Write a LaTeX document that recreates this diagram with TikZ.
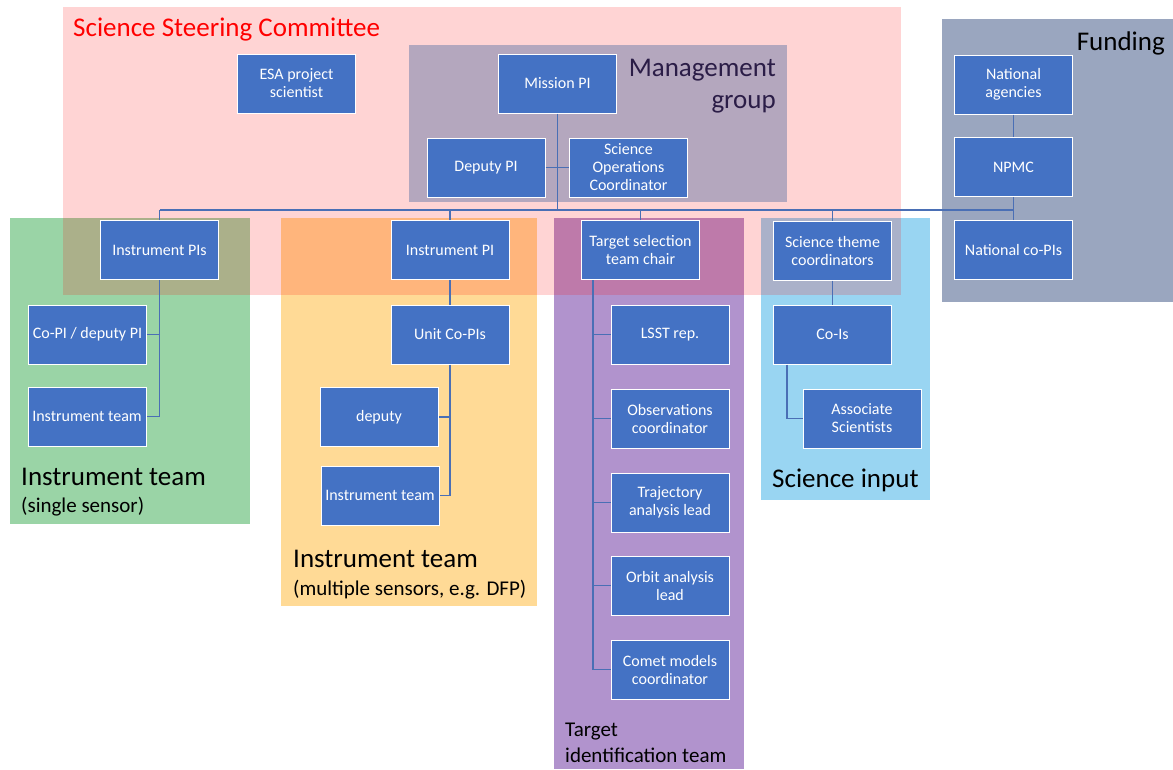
\documentclass[tikz,border=0pt]{standalone}
\usepackage{fontspec}
\setmainfont{Carlito}
\definecolor{nodeblue}{HTML}{4472C4}
\definecolor{lineblue}{HTML}{4A6FB5}
\definecolor{greenbg}{HTML}{9AD4A6}
\definecolor{orangebg}{HTML}{FFDA96}
\definecolor{purplebg}{HTML}{B193CD}
\definecolor{bluebg}{HTML}{99D5F2}
\definecolor{mgmtbg}{HTML}{B4A7BE}
\definecolor{fundbg}{HTML}{9AA6BF}
\definecolor{mgmttext}{HTML}{2B1D47}
\begin{document}
\begin{tikzpicture}[x=1pt,y=-1pt,
  box/.style={rectangle,fill=nodeblue,draw=white,line width=1pt,minimum width=118pt,minimum height=59pt,text=white,align=center,inner sep=1pt,font=\fontsize{16}{18}\selectfont},
  conn/.style={draw=lineblue,line width=1.2pt},
  title/.style={font=\fontsize{27}{32}\selectfont,inner sep=0pt,anchor=base west},
  sub/.style={font=\fontsize{21}{25}\selectfont,inner sep=0pt,anchor=base west}]
\useasboundingbox (0,0) rectangle (1173,769);
\fill[white] (0,0) rectangle (1173,769);
% group backgrounds
\fill[greenbg] (10,218) rectangle (250,524);
\fill[orangebg] (281,218) rectangle (537,606);
\fill[purplebg] (554,218) rectangle (744,769);
\fill[bluebg] (761,218) rectangle (930,500);
\fill[red,fill opacity=0.17] (63,7) rectangle (901,295);
\fill[mgmtbg] (409,45) rectangle (787,202);
\fill[fundbg] (942,19) rectangle (1173,302);
% group labels
\node[title,text=red] (ssc) at (73,36) {Science Steering Committee};
\node[title,text=mgmttext,anchor=base east] (mg1) at (776,76) {Management};
\node[title,text=mgmttext,anchor=base east] (mg2) at (776,108) {group};
\node[title,anchor=base east] (fund) at (1165,50) {Funding};
\node[title] (it1t) at (21,485) {Instrument team};
\node[sub] (it1s) at (21,512) {(single sensor)};
\node[title] (it2t) at (293,567) {Instrument team};
\node[sub] (it2s) at (293,595) {(multiple sensors, e.g. DFP)};
\node[title] (sit) at (772,487) {Science input};
\node[sub] (tit1) at (565,736) {Target};
\node[sub] (tit2) at (565,762) {identification team};
% nodes
\node[box] (esa) at (296.5,83.5) {ESA project\\scientist};
\node[box] (mpi) at (557.5,83.5) {Mission PI};
\node[box] (dpi) at (486,167.5) {Deputy PI};
\node[box] (soc) at (628.5,167.5) {Science\\Operations\\Coordinator};
\node[box] (nat) at (1013.5,84.5) {National\\agencies};
\node[box] (npmc) at (1013.5,167) {NPMC};
\node[box] (ncopi) at (1013.5,250) {National co-PIs};
\node[box] (ipis) at (159.5,250) {Instrument PIs};
\node[box] (ipi) at (450,250) {Instrument PI};
\node[box] (tsc) at (640.5,250) {Target selection\\team chair};
\node[box] (stc) at (832.5,250.5) {Science theme\\coordinators};
\node[box] (copi) at (87.5,334.5) {Co-PI / deputy PI};
\node[box] (it1) at (87,416.5) {Instrument team};
\node[box] (ucopi) at (450,334.5) {Unit Co-PIs};
\node[box] (dep) at (379,417) {deputy};
\node[box] (it2) at (380,495.5) {Instrument team};
\node[box] (lsst) at (670,334.5) {LSST rep.};
\node[box] (obs) at (670,418.5) {Observations\\coordinator};
\node[box] (traj) at (670,502.5) {Trajectory\\analysis lead};
\node[box] (orb) at (670,585.5) {Orbit analysis\\lead};
\node[box] (comet) at (670,669.5) {Comet models\\coordinator};
\node[box] (cois) at (832.5,334.5) {Co-Is};
\node[box] (assoc) at (862,418.5) {Associate\\Scientists};
% connectors
\coordinate (busL) at (159.5,210);
\coordinate (busR) at (1013.5,210);
\draw[conn] (busL) -- (busR);
\draw[conn] (mpi) -- (mpi |- busL);
\draw[conn] (dpi) -- (soc);
\draw[conn] (ipis) -- (ipis |- busL);
\draw[conn] (ipi) -- (ipi |- busL);
\draw[conn] (tsc) -- (tsc |- busL);
\draw[conn] (stc) -- (stc |- busL);
\draw[conn] (npmc) -- (npmc |- busL);
\draw[conn] (ncopi) -- (ncopi |- busL);
\draw[conn] (nat) -- (npmc);
\draw[conn] (ipi) -- (ucopi);
\draw[conn] (stc) -- (cois);
\draw[conn] (ipis.south) |- (it1.east);
\draw[conn] (ipis.south |- copi.east) -- (copi.east);
\draw[conn] (ucopi.south) |- (it2.east);
\draw[conn] (ucopi.south |- dep.east) -- (dep.east);
\coordinate (tsv) at ([xshift=12pt]tsc.south west);
\draw[conn] (tsv) |- (comet.west);
\draw[conn] (tsv |- lsst.west) -- (lsst.west);
\draw[conn] (tsv |- obs.west) -- (obs.west);
\draw[conn] (tsv |- traj.west) -- (traj.west);
\draw[conn] (tsv |- orb.west) -- (orb.west);
\coordinate (cov) at ([xshift=14pt]cois.south west);
\draw[conn] (cov) |- (assoc.west);
\end{tikzpicture}
\end{document}
